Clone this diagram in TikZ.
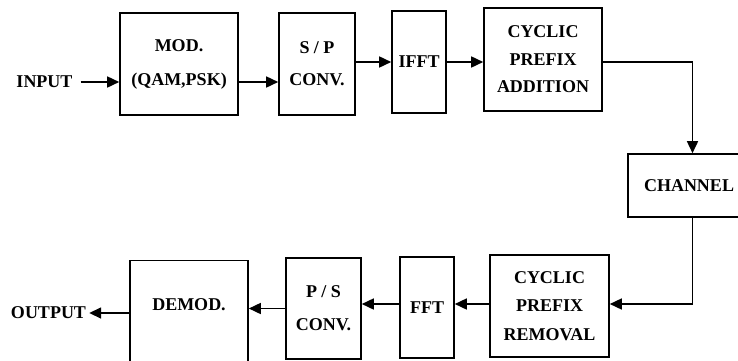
\documentclass[tikz,border=0pt]{standalone}
\usepackage{fontspec}
\setmainfont{Liberation Serif}
\usetikzlibrary{arrows.meta}
\begin{document}
\begin{tikzpicture}[x=1pt,y=1pt,
  blk/.style={draw, line width=1.6pt, inner sep=0pt, align=center,
    font=\bfseries\fontsize{18}{#1}\selectfont},
  blk/.default=28,
  lbl/.style={inner sep=0pt, font=\bfseries\fontsize{18}{22}\selectfont},
  flow/.style={line width=1.6pt, -{Triangle[length=12pt,width=11pt]}},
  wire/.style={line width=1.6pt}]
\useasboundingbox (0,0) rectangle (738,360);
% top row
\node[blk=34, minimum width=118pt, minimum height=102pt] (mod) at (179,296) {MOD.\\(QAM,PSK)};
\node[blk=32, minimum width=76pt, minimum height=102pt] (sp) at (317,296) {S / P\\CONV.};
\node[blk, minimum width=54pt, minimum height=102pt] (ifft) at (419,298) {IFFT};
\node[blk=27.5, minimum width=118pt, minimum height=103pt] (cpa) at (543,300.5) {CYCLIC\\PREFIX\\ADDITION};
\node[blk, minimum width=129pt, minimum height=63pt] (ch) at (692.5,174.5) {CHANNEL\hspace*{7pt}};
% bottom row
\node[blk=28.5, minimum width=119pt, minimum height=102pt] (cpr) at (549.5,54) {CYCLIC\\PREFIX\\REMOVAL};
\node[blk, minimum width=54pt, minimum height=101pt] (fft) at (427,52.5) {FFT};
\node[blk=33, minimum width=75pt, minimum height=101pt] (ps) at (323.5,51.5) {P / S\\CONV.};
\node[blk, minimum width=118pt, minimum height=120pt] (demod) at (189,39.5) {};
\node[lbl] (demodtxt) at (189,55) {DEMOD.};
% in / out labels
\node[lbl] (in) at (44.5,278) {INPUT};
\node[lbl] (out) at (48.5,47) {OUTPUT};
\coordinate (lowrow) at (0,56);
% connectors
\draw[flow, shorten <=8pt] (in.east) -- (in.east -| mod.west);
\draw[flow] (mod.east |- in.east) -- (sp.west |- in.east);
\draw[flow] (sp.east |- ifft.east) -- (ifft.west);
\draw[flow] (ifft.east) -- (ifft.east -| cpa.west);
\draw[flow] (cpa.east |- ifft.east) -| (ch.north);
\draw[flow] (ch.south) |- (cpr.east |- lowrow);
\draw[flow] (cpr.west |- lowrow) -- (fft.east |- lowrow);
\draw[flow] (fft.west |- lowrow) -- (ps.east |- lowrow);
\draw[flow] (ps.west) -- (ps.west -| demod.east);
\draw[flow, shorten >=3pt] (demod.west |- out.east) -- (out.east);
\end{tikzpicture}
\end{document}
